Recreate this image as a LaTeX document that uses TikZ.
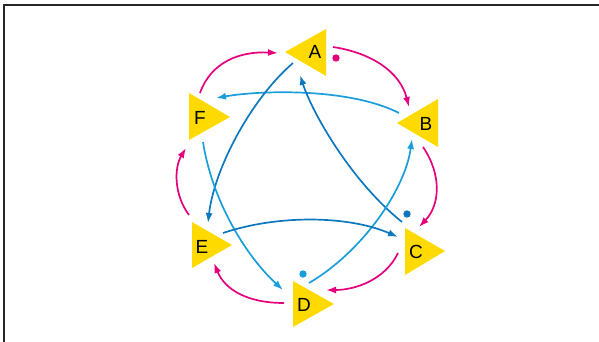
\documentclass[tikz,border=0pt]{standalone}
\usepackage{fontspec}
\setmainfont{Liberation Sans}
\usetikzlibrary{calc,arrows.meta}
\definecolor{tri}{RGB}{255,218,0}
\definecolor{pinkc}{RGB}{229,0,126}
\definecolor{lblue}{RGB}{26,158,218}
\definecolor{dblue}{RGB}{14,120,190}
\definecolor{frame}{RGB}{40,40,40}
\tikzset{
  lab/.style={inner sep=0pt, font=\fontsize{19}{19}\selectfont},
  conn/.style={line width=1.7pt, -{Latex[length=10pt,width=7pt]}},
  pk/.style={conn, draw=pinkc},
  lb/.style={conn, draw=lblue},
  db/.style={conn, draw=dblue},
  trif/.style={fill=tri},
}
\begin{document}
\begin{tikzpicture}[x=1pt,y=-1pt]
\useasboundingbox (0,0) rectangle (599,342);
\draw[frame, line width=1.3pt] (4,342) -- (4,5) -- (599,5);
% triangles
\fill[trif] (285,52) -- (326,29) -- (326,76) -- cycle;
\fill[trif] (189,93) -- (230,117) -- (189,140) -- cycle;
\fill[trif] (397,123) -- (438,99) -- (438,147) -- cycle;
\fill[trif] (192,222) -- (232,245) -- (192,268) -- cycle;
\fill[trif] (405,228) -- (445,251) -- (405,275) -- cycle;
\fill[trif] (293,281) -- (334,304) -- (293,327) -- cycle;
% labels
\node[lab] (A) at (315,52) {A};
\node[lab] (B) at (426,124) {B};
\node[lab] (C) at (416,252) {C};
\node[lab] (D) at (304,305) {D};
\node[lab] (E) at (202,247) {E};
\node[lab] (F) at (200,118) {F};
% dots
\fill[pinkc] (336,58) circle (3.7);
\fill[dblue] (407,214) circle (3.7);
\fill[lblue] (303,274) circle (3.7);
% pink ring
\draw[pk] ($(F)+(0,-25)$) .. controls (211,62) and (240,51) .. ($(A)+(-37,1)$);
\draw[pk] ($(A)+(18,-5)$) .. controls (372,53) and (400,72) .. ($(B)+(-17,-17)$);
\draw[pk] ($(B)+(-3,23)$) .. controls (442,175) and (440,205) .. ($(C)+(3,-25)$);
\draw[pk] ($(C)+(-18,1)$) .. controls (385,280) and (355,290) .. ($(D)+(22,-15)$);
\draw[pk] ($(D)+(-20,-2)$) .. controls (248,303) and (225,290) .. ($(E)+(12,16)$);
\draw[pk] ($(E)+(-13,-32)$) .. controls (174,195) and (174,168) .. ($(F)+(-14,30)$);
% blue chords
\draw[lb] ($(B)+(-27,-11)$) .. controls (350,88) and (262,90) .. ($(F)+(16,-20)$);
\draw[db] ($(A)+(-22,11)$) .. controls (250,100) and (214,170) .. ($(E)+(6,-24)$);
\draw[db] ($(C)+(-14,-30)$) .. controls (350,180) and (312,112) .. ($(A)+(-15,23)$);
\draw[lb] ($(F)+(3,24)$) .. controls (212,200) and (245,255) .. ($(D)+(-21,-15)$);
\draw[lb] ($(D)+(5,-22)$) .. controls (362,252) and (405,190) .. ($(B)+(-14,15)$);
\draw[db] ($(E)+(21,-14)$) .. controls (280,214) and (350,216) .. ($(C)+(-18,-15)$);
\end{tikzpicture}
\end{document}
